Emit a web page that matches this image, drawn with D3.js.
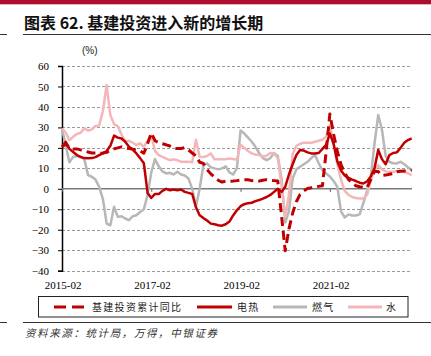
<!DOCTYPE html>
<html><head><meta charset="utf-8">
<script src="https://cdn.jsdelivr.net/npm/d3@7"></script>
<style>
html,body{margin:0;padding:0;background:#fff;}
svg{display:block;}
</style></head>
<body>
<svg id="c" width="431" height="356"></svg>
<script>
// ---- data ----
const startMonth = "2015-02";
const monthCount = 95; // 2015-02 .. 2022-12
const tickLabels = ["2015-02","2017-02","2019-02","2021-02"];
const yTicks = [60,50,40,30,20,10,0,-10,-20,-30,-40];
const seriesNames = ["基建投资累计同比","电热","燃气","水"];

const infraCum = [20.5,22,20,19.5,19.5,19,18.5,18,17.5,17.5,17.3,17.5,17.8,19,19.5,20,20.5,20,19.7,19.4,18.9,18.5,17.4,22,
27.3,23.5,22.5,22,21.5,20.9,19.8,19.7,19.7,20.1,19,17.5,16.1,13,12.4,9.4,7.3,5.7,4.2,3.3,3.7,3.7,3.8,4,
4.3,4.4,4.4,4,4.1,3.8,4.2,4.5,4.2,4,3.8,-13,-30.3,-19.7,-11.8,-6.3,-2.7,-1,0.2,0.5,0.9,1.2,1.5,18,
36.6,26.8,18.4,11.8,7.8,4.6,2.9,1.5,1,0.7,0.6,4.5,8.6,8.5,6.5,6.7,7.1,7.4,8.3,8.6,8.7,8.7,9.2];

const elecHeat = [20.5,23,19.5,18,16.5,15.6,15,14.9,15,15.5,16.5,17.3,18.5,21,26,25,24.6,23,20.5,19.2,17.3,15,12.5,-2,
-4.5,-2.5,-2.5,-1,0,-0.7,-0.3,-0.7,-0.3,-1.5,-2,-2.5,-9,-12.9,-14.3,-15.5,-17,-17.3,-17.8,-18,-17.3,-16,-13,-10.5,
-8.5,-7.5,-7,-6.8,-6,-5.5,-4.8,-4,-3,-1.5,0,-1.5,1,7,12,16.5,19,18.7,17.8,17.3,17.3,17.5,19.5,21.5,
27,22,13.5,9,6.5,5.3,4.5,3.8,3,2.6,3.6,6,10,19,14.5,12,16.5,17.5,17.8,20,22.5,23.8,24.6];

const gas = [29.5,21,13,15.6,16,15.5,14.5,6.7,5.9,4.5,1,-5,-17,-17.8,-8.8,-13.7,-13.4,-14.5,-15.3,-13.4,-12.9,-11.3,-10,-3,
8,14.5,11,8.5,7.5,7.8,7,8.3,7,6.5,5,0,-8.8,0,11.5,12.4,10.5,10,9.5,10,11,8,7,10,
28.5,27,25,23,20.5,17.5,15,14,15,17.5,16,5,-16.5,-11,5,9.5,10.8,12,13.2,15,16.5,12.5,9,7.5,
6,3.8,1,-11,-14,-12.5,-13,-13,-12.5,-7,-1,6,22,36,29,16,13.2,12.5,12.4,13.2,12,10.5,9.1];

const water = [29.5,27.5,23.8,25.4,26.8,27.4,29.5,28.4,29,30.7,31,38,50.7,36,31.6,30.5,26.5,23.2,23.5,22.5,21.4,22.2,20.5,23.5,
26,18.5,16.5,15.6,14.8,14,14.4,14,13.2,13.2,13.2,13,24,15.7,15.5,16,17.3,14.4,14.4,14.5,14.5,14.8,14.6,14.2,
21.5,20,18.5,17.3,16.8,16.5,15.8,16.2,17.5,17.3,15,2,-13.7,-3,17,21,22,22.5,22.5,22.5,23,23.5,24,25.5,
31,22,12,4.5,-1,-3,-4,-4.5,-4.7,-4.7,-3,4,9.5,11.5,9.5,8.5,8.3,8.3,8.6,8.8,8.3,7.5,6.7];

// ---- build categories ----
const parse = d3.timeParse("%Y-%m"), fmt = d3.timeFormat("%Y-%m");
const t0 = parse(startMonth);
const months = d3.range(monthCount).map(i => fmt(d3.timeMonth.offset(t0, i)));

const svg = d3.select("#c");
const W = 431;

// header
svg.append("rect").attr("x",0).attr("y",0).attr("width",W).attr("height",4).attr("fill","#AE0E2E");
svg.append("rect").attr("x",0).attr("y",4).attr("width",W).attr("height",1).attr("fill","#E6B3BD");
svg.append("text").attr("x",24).attr("y",28.5)
  .attr("font-family","'Noto Sans CJK SC', sans-serif").attr("font-weight",700)
  .attr("font-size",16).attr("fill","#111").text("图表 62. 基建投资进入新的增长期");
svg.append("line").attr("x1",23).attr("x2",W).attr("y1",34.5).attr("y2",34.5).attr("stroke","#333").attr("stroke-width",1);
svg.append("line").attr("x1",0).attr("x2",7).attr("y1",34.5).attr("y2",34.5).attr("stroke","#333").attr("stroke-width",1);

// scales
const x = d3.scalePoint().domain(months).range([62, 411.7]);
const y = d3.scaleLinear().domain([-40, 60]).range([270.7, 66]);

// gridlines
const g = svg.append("g");
g.selectAll("line.grid").data(yTicks.filter(v => v !== 0)).enter().append("line")
  .attr("x1", 62).attr("x2", 412).attr("y1", d => Math.round(y(d))+0.5).attr("y2", d => Math.round(y(d))+0.5)
  .attr("stroke", "#9a9a9a").attr("stroke-width", 1).attr("stroke-dasharray", "3,2");

// y axis
const yAxis = d3.axisLeft(y).tickValues(yTicks).tickSize(4).tickPadding(9).tickFormat(d3.format("d"));
const ya = svg.append("g").attr("transform","translate(62,0)").call(yAxis);
ya.select(".domain").attr("stroke","#000").attr("stroke-width",1.5);
ya.selectAll(".tick line").attr("stroke","#000");
ya.selectAll("text").attr("font-family","'Liberation Serif', 'Times New Roman', serif").attr("font-size",11).attr("fill","#000");

// zero axis line with ticks
const xAxis = d3.axisBottom(x).tickValues(tickLabels).tickSize(3).tickFormat("");
const xa = svg.append("g").attr("transform",`translate(0,${y(0)})`).call(xAxis);
xa.select(".domain").remove();
xa.selectAll(".tick line").attr("stroke","#555");
svg.append("line").attr("x1",62).attr("x2",412).attr("y1",y(0)).attr("y2",y(0)).attr("stroke","#7a7a7a").attr("stroke-width",1.5);

// x labels at bottom
svg.append("g").selectAll("text").data(tickLabels).enter().append("text")
  .attr("x", d => x(d) + 1.2).attr("y", 289).attr("text-anchor","middle")
  .attr("font-family","'Liberation Serif', 'Times New Roman', serif").attr("font-size",11).attr("fill","#000")
  .text(d => d);

// (%)
svg.append("text").attr("x",82).attr("y",53.5).attr("font-family","'Liberation Sans', Arial, sans-serif")
  .attr("font-size",10).attr("fill","#222").text("(%)");

// lines
const line = d3.line().x((d,i) => x(months[i])).y(d => y(d));
const seriesDefs = [
  {data: gas, color: "#B7B7B7", dash: null, w: 2.5},
  {data: water, color: "#F3B7B9", dash: null, w: 2.5},
  {data: elecHeat, color: "#C00000", dash: null, w: 2.5},
  {data: infraCum, color: "#C00000", dash: "9,5", w: 3}
];
const lg = svg.append("g");
seriesDefs.forEach(s => {
  lg.append("path").datum(s.data).attr("d", line).attr("fill","none")
    .attr("stroke", s.color).attr("stroke-width", s.w).attr("stroke-linejoin","round")
    .attr("stroke-dasharray", s.dash);
});

// legend
svg.append("rect").attr("x",38.5).attr("y",296.5).attr("width",369.5).attr("height",20.5)
  .attr("fill","#fff").attr("stroke","#222").attr("stroke-width",1);
const legItems = [
  {name: seriesNames[0], color:"#C00000", dash:"12,6", x1:54, x2:84, tx:92, w:3},
  {name: seriesNames[1], color:"#C00000", dash:null, x1:197, x2:232, tx:237, w:3},
  {name: seriesNames[2], color:"#B7B7B7", dash:null, x1:273, x2:307, tx:312, w:3},
  {name: seriesNames[3], color:"#F3B7B9", dash:null, x1:348, x2:382, tx:386, w:3}
];
const lgd = svg.append("g");
legItems.forEach(it => {
  lgd.append("line").attr("x1",it.x1).attr("x2",it.x2).attr("y1",307).attr("y2",307)
    .attr("stroke",it.color).attr("stroke-width",it.w).attr("stroke-dasharray",it.dash);
  lgd.append("text").attr("x",it.tx).attr("y",310.5)
    .attr("font-family","'Noto Sans CJK SC', sans-serif").attr("font-size",10).attr("letter-spacing",1.3)
    .attr("fill","#222").text(it.name);
});

// footer
svg.append("line").attr("x1",23).attr("x2",W).attr("y1",322.5).attr("y2",322.5).attr("stroke","#333").attr("stroke-width",1);
svg.append("line").attr("x1",0).attr("x2",7).attr("y1",322.5).attr("y2",322.5).attr("stroke","#333").attr("stroke-width",1);
svg.append("text").attr("x",25).attr("y",337).attr("font-family","'Noto Sans CJK SC', sans-serif")
  .attr("font-size",10.5).attr("font-style","italic").attr("letter-spacing",1.6).attr("fill","#333")
  .text("资料来源：统计局，万得，中银证券");
</script>
</body></html>
